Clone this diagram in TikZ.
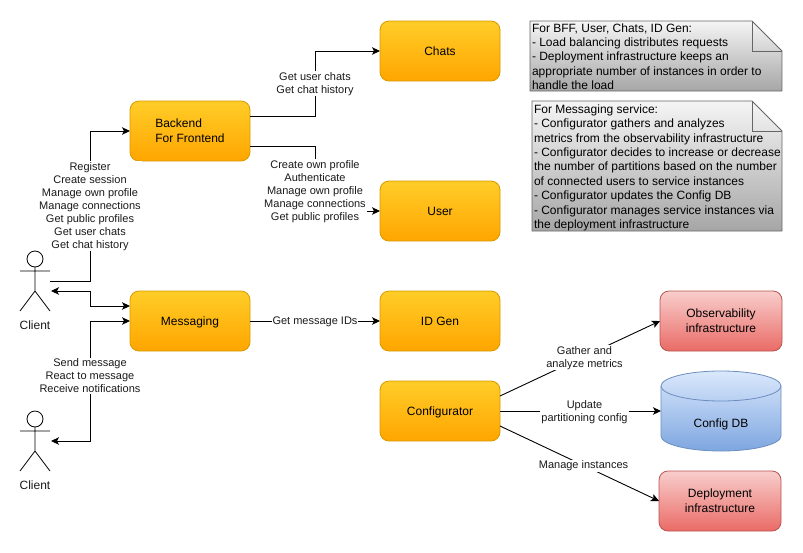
\documentclass[tikz,border=0pt]{standalone}
\usepackage{fontspec}
\setmainfont{Liberation Sans}
\usetikzlibrary{arrows.meta}
\definecolor{orangetop}{HTML}{FFCD28}
\definecolor{orangebot}{HTML}{FFA500}
\definecolor{orangeline}{HTML}{D79B00}
\definecolor{redtop}{HTML}{F8CECC}
\definecolor{redbot}{HTML}{EA6B66}
\definecolor{redline}{HTML}{B85450}
\definecolor{bluetop}{HTML}{DAE8FC}
\definecolor{bluebot}{HTML}{7EA6E0}
\definecolor{blueline}{HTML}{6C8EBF}
\definecolor{notetop}{HTML}{F5F5F5}
\definecolor{notebot}{HTML}{A6A6A6}
\definecolor{noteline}{HTML}{666666}
\definecolor{labelgray}{HTML}{1A1A1A}
\tikzset{>={Stealth[length=8pt,width=7.5pt,inset=2pt]}, % draw.io like tips
  every node/.style={outer sep=0pt},
  link/.style={line width=0.9pt},
  service/.style={draw=orangeline, line width=0.8pt, rounded corners=9pt,
    top color=orangetop, bottom color=orangebot,
    minimum width=120pt, minimum height=60pt, align=left,
    text height=9pt, text depth=0pt,
    font={\fontsize{12}{15}\selectfont}},
  infra/.style={draw=redline, line width=0.8pt, rounded corners=9pt,
    top color=redtop, bottom color=redbot,
    minimum width=122pt, minimum height=60pt, align=center,
    font={\fontsize{12}{15}\selectfont}},
  twoline/.style={text height=26pt, text depth=2.6pt},
  dbbody/.style={draw=blueline, line width=0.8pt, top color=bluetop, bottom color=bluebot},
  notebody/.style={draw=noteline, line width=0.8pt, top color=notetop, bottom color=notebot},
  notetext/.style={anchor=north west, inner sep=0pt, align=left,
    font={\fontsize{12}{14.4}\selectfont}},
  msg/.style={fill=white, inner sep=1pt, align=center, text=labelgray,
    font={\fontsize{11}{13}\selectfont}},
  actor/.style={minimum width=30pt, minimum height=60pt, inner sep=0pt},
  caption/.style={inner sep=0pt, text=labelgray, font={\fontsize{12}{15}\selectfont}},
}
\newcommand{\stickman}[1]{
  \draw [line width=0.8pt] ([yshift=-8pt]#1.north) circle (8pt);
  \draw [line width=0.8pt] ([yshift=-16pt]#1.north) -- ([yshift=-40pt]#1.north)
    (#1.south west) -- ([yshift=-40pt]#1.north) -- (#1.south east)
    ([yshift=-20pt]#1.north west) -- ([yshift=-20pt]#1.north east);
}
\begin{document}
\begin{tikzpicture}[x=1pt,y=-1pt]
  \useasboundingbox (0,0) rectangle (803,552);

  \node [service] (chats) at (440,51) {Chats};
  \node [service,twoline] (backend) at (190,131) {Backend\\For Frontend};
  \node [service] (user) at (440,211) {User};
  \node [service] (messaging) at (190,321) {Messaging};
  \node [service] (idgen) at (440,321) {ID Gen};
  \node [service] (configurator) at (440,411) {Configurator};
  \node [infra,twoline] (observ) at (721,321) {Observability\\infrastructure};
  \node [infra,twoline] (deploy) at (720,501) {Deployment\\infrastructure};

  % config db
  \shade [dbbody] (661,386) arc [start angle=180,end angle=0,x radius=60pt,y radius=15pt]
    -- (781,436) arc [start angle=0,end angle=-180,x radius=60pt,y radius=15pt] -- cycle;
  \draw [draw=blueline,line width=0.8pt] (661,386) arc [start angle=180,end angle=360,x radius=60pt,y radius=15pt];
  \node [minimum width=120pt,minimum height=80pt,inner sep=0pt] (configdb) at (721,411) {};
  \node [caption,text=black] (configdbtext) at (721,424.5) {Config DB};

  % notes
  \shade [notebody] (530,21) -- (752,21) -- (782,51) -- (782,91) -- (530,91) -- cycle;
  \draw [draw=noteline,line width=0.8pt] (752,21) -- (752,51) -- (782,51);
  \node [notetext] (noteall) at (532,23.5) {For BFF, User, Chats, ID Gen:\\- Load balancing distributes requests\\- Deployment infrastructure keeps an\\appropriate number of instances in order to\\handle the load};
  \shade [notebody] (532,101) -- (752,101) -- (782,131) -- (782,231) -- (532,231) -- cycle;
  \draw [draw=noteline,line width=0.8pt] (752,101) -- (752,131) -- (782,131);
  \node [notetext] (notemsg) at (534,104.7) {For Messaging service:\\- Configurator gathers and analyzes\\metrics from the observability infrastructure\\- Configurator decides to increase or decrease\\the number of partitions based on the number\\of connected users to service instances\\- Configurator updates the Config DB\\- Configurator manages service instances via\\the deployment infrastructure};

  % links
  \node [actor] (clienta) at (35,281) {};
  \node [actor] (clientb) at (35,441) {};
  \draw [link,->] (clienta.east) -- ++(40,0) |- (backend.west);
  \draw [link,<->] ([yshift=-10pt,xshift=1pt]clienta.east) -- ++(39,0) |- ([yshift=15pt]messaging.west);
  \draw [link,<->] ([xshift=1pt]clientb.east) -- ++(39,0) |- (messaging.west);
  \draw [link,->] ([yshift=15pt]backend.east) -- ++(65,0) |- (chats.west);
  \draw [link,->] ([yshift=-15pt]backend.east) -- ++(65,0) |- (user.west);
  \draw [link,->] (messaging.east) -- (idgen.west);
  \draw [link,->] ([yshift=15pt]configurator.east) -- (observ.west);
  \draw [link,->] (configurator.east) -- (configdb.west);
  \draw [link,->] ([yshift=-15pt]configurator.east) -- (deploy.west);

  % link labels
  \node [msg] (lblbackend) at (90,206.3) {Register\\Create session\\Manage own profile\\Manage connections\\Get public profiles\\Get user chats\\Get chat history};
  \node [msg] (lblmessaging) at (90,375.8) {Send message\\React to message\\Receive notifications};
  \node [msg] (lblchats) at (315,83.8) {Get user chats\\Get chat history};
  \node [msg] (lbluser) at (315,191.3) {Create own profile\\Authenticate\\Manage own profile\\Manage connections\\Get public profiles};
  \node [msg] (lblidgen) at (315,321.8) {Get message IDs};
  \node [msg] (lblobserv) at (584.5,357.8) {Gather and\\analyze metrics};
  \node [msg] (lblconfig) at (584.5,411.8) {Update\\partitioning config};
  \node [msg] (lbldeploy) at (583.5,465.8) {Manage instances};

  % clients
  \stickman{clienta}
  \stickman{clientb}
  \node [caption] (clientatext) at (35,325) {Client};
  \node [caption] (clientbtext) at (35,485) {Client};
\end{tikzpicture}
\end{document}
